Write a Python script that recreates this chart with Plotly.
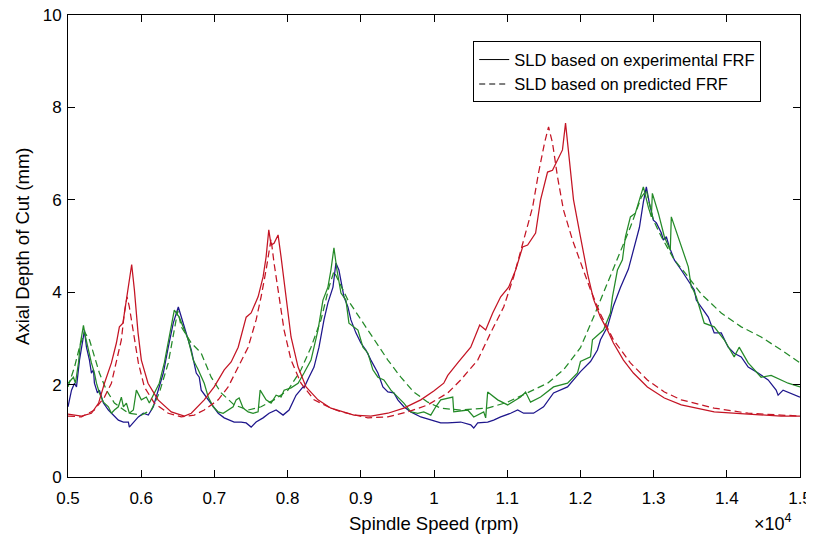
import plotly.graph_objects as go

# ---------------- data (spindle speed in rpm, depth in mm) ----------------
red_solid_x = [5000, 5184, 5320, 5418, 5498, 5593, 5661, 5702, 5750, 5798, 5838, 5870, 5907, 5957, 6002,
               6093, 6230, 6411, 6590, 6684, 6861, 6997, 7134, 7229, 7325, 7406, 7434, 7502, 7597, 7665,
               7706, 7743, 7774, 7815, 7870, 7911, 7979, 8047, 8143, 8252, 8415, 8592, 8906, 9138, 9370,
               9588, 9819, 9997, 10133, 10188, 10324, 10392, 10502, 10597, 10624, 10706, 10802, 10911,
               11020, 11115, 11211, 11279, 11388, 11456, 11551, 11619, 11688, 11755, 11797, 11838, 11906,
               12001, 12097, 12179, 12274, 12370, 12451, 12588, 12724, 12915, 13147, 13378, 13828, 14292,
               14742, 15000]
red_solid_y = [1.36, 1.32, 1.38, 1.60, 2.03, 2.47, 2.90, 3.25, 3.33, 3.83, 4.33, 4.60, 4.05, 3.12, 2.53,
               2.03, 1.67, 1.41, 1.32, 1.38, 1.67, 1.95, 2.32, 2.49, 2.81, 3.25, 3.46, 3.55, 3.90, 4.33,
               4.76, 5.35, 5.02, 5.06, 5.24, 4.76, 3.90, 3.03, 2.38, 1.95, 1.67, 1.49, 1.34, 1.32, 1.38,
               1.49, 1.67, 1.86, 2.03, 2.20, 2.47, 2.60, 2.81, 3.18, 3.29, 3.18, 3.55, 3.90,
               4.11, 4.48, 4.98, 5.02, 5.28, 6.00, 6.60, 6.64, 6.86, 7.08, 7.66, 7.08, 6.00,
               5.20, 4.40, 3.85, 3.46, 3.18, 2.90, 2.53, 2.25, 1.95, 1.71, 1.56, 1.41, 1.36,
               1.32, 1.32]

red_dash_x = [5000, 5184, 5361, 5498, 5593, 5661, 5729, 5770, 5807, 5838, 5893, 5961, 6043, 6179, 6370,
              6547, 6725, 6861, 7052, 7188, 7325, 7461, 7570, 7638, 7706, 7747, 7774, 7815, 7883, 7952,
              8047, 8183, 8361, 8592, 8729, 9097, 9370, 9643, 9915, 10188, 10365, 10597, 10774, 10952,
              11088, 11224, 11347, 11428, 11510, 11565, 11619, 11688, 11769, 11892, 12001, 12138, 12274,
              12451, 12683, 12915, 13147, 13378, 13828, 14292, 14742, 15000]
red_dash_y = [1.32, 1.30, 1.45, 1.73, 2.03, 2.47, 2.97, 3.55, 3.90, 3.68, 3.12, 2.47, 1.95, 1.60, 1.38,
              1.30, 1.34, 1.45, 1.67, 1.95, 2.38, 2.81, 3.40, 3.90, 4.48, 4.85, 5.15, 4.63, 3.90, 3.18,
              2.53, 2.03, 1.67, 1.49, 1.41, 1.28, 1.30, 1.41, 1.56, 1.82, 2.10, 2.53, 3.12, 3.68,
              4.33, 5.13, 5.84, 6.58, 7.23, 7.58, 7.23, 6.49, 5.78, 5.13, 4.63, 4.05, 3.53,
              2.97, 2.47, 2.10, 1.84, 1.67, 1.49, 1.38, 1.34, 1.32]

green_dash_x = [5000, 5089, 5157, 5225, 5293, 5361, 5429, 5525, 5634, 5825, 6002, 6138, 6247, 6370, 6438,
                6480, 6500, 6547, 6684, 6779, 6820, 6956, 7093, 7270, 7461, 7638, 7815, 8006, 8183, 8320,
                8456, 8565, 8633, 8824, 9001, 9179, 9370, 9547, 9724, 9915, 10092, 10365, 10733, 11006,
                11279, 11551, 11769, 12001, 12179, 12370, 12547, 12683, 12833, 12901, 12997, 13106, 13283,
                13474, 13651, 13924, 14197, 14469, 14742, 15000]
green_dash_y = [1.95, 2.38, 2.81, 3.14, 2.97, 2.60, 2.25, 1.88, 1.60, 1.38, 1.34, 1.45, 1.82, 2.47, 3.03,
                3.46, 3.60, 3.25, 2.90, 2.75, 2.68, 2.16, 1.82, 1.56, 1.45, 1.52, 1.67, 1.88, 2.32, 2.81,
                3.40, 4.11, 4.45, 3.83, 3.40, 2.97, 2.53, 2.16, 1.84, 1.62, 1.49, 1.45, 1.49, 1.62,
                1.82, 2.03, 2.32, 2.80, 3.46, 4.20, 4.85, 5.41, 6.06, 6.20, 5.56, 5.20, 4.70,
                4.33, 3.96, 3.55, 3.25, 3.03, 2.75, 2.47]

blue_x = [5000, 5048, 5089, 5116, 5157, 5198, 5225, 5252, 5293, 5320, 5348, 5361, 5402, 5429, 5484,
          5552, 5620, 5688, 5757, 5825, 5838, 5893, 5961, 6029, 6097, 6166, 6234, 6302, 6370, 6438,
          6507, 6547, 6588, 6643, 6684, 6752, 6793, 6820, 6888, 6956, 7052, 7134, 7270, 7365, 7434,
          7502, 7570, 7665, 7747, 7843, 7938, 8020, 8115, 8211, 8224, 8292, 8361, 8429, 8497, 8551,
          8620, 8660, 8701, 8770, 8824, 8865, 8933, 9001, 9070, 9138, 9234, 9302, 9370, 9452, 9506,
          9588, 9683, 9819, 9956, 10092, 10188, 10365, 10502, 10543, 10597, 10733, 10815, 10911,
          11047, 11143, 11224, 11360, 11497, 11633, 11824, 12001, 12138, 12233, 12274, 12370, 12451,
          12547, 12656, 12724, 12806, 12860, 12901, 12942, 12997, 13038, 13106, 13133, 13174, 13215,
          13283, 13378, 13474, 13556, 13583, 13651, 13747, 13828, 13924, 14019, 14101, 14197, 14292,
          14428, 14565, 14674, 14701, 14769, 14865, 15000]
blue_y = [1.52, 1.88, 2.03, 1.95, 2.53, 2.97, 3.18, 2.81, 2.53, 2.25, 2.32, 2.03, 1.82, 1.88, 1.60,
          1.45, 1.34, 1.23, 1.19, 1.19, 1.08, 1.19, 1.30, 1.38, 1.34, 1.52, 1.88, 2.25, 2.81, 3.33,
          3.68, 3.46, 3.25, 2.97, 2.75, 2.25, 2.16, 1.88, 1.73, 1.60, 1.38, 1.28, 1.19, 1.19, 1.17,
          1.08, 1.19, 1.28, 1.38, 1.45, 1.34, 1.45, 1.77, 1.95, 1.93, 2.16, 2.38, 2.81, 3.40, 3.77,
          4.11, 4.63, 4.48, 3.90, 3.68, 3.40, 3.12, 2.90, 2.75, 2.53, 2.25, 1.95, 1.84, 1.82, 1.67,
          1.52, 1.41, 1.30, 1.23, 1.17, 1.17, 1.19, 1.13, 1.06, 1.17, 1.19, 1.23, 1.30,
          1.38, 1.45, 1.38, 1.38, 1.52, 1.82, 1.95, 2.28, 2.50, 2.75, 2.97, 3.25, 3.70,
          4.10, 4.50, 4.90, 5.40, 5.95, 6.28, 5.93, 5.56, 5.50, 5.28, 5.13, 5.20, 4.98,
          4.70, 4.48, 4.26, 4.05, 3.83, 3.68, 3.46, 3.12, 3.12, 2.81, 2.68, 2.60, 2.38,
          2.25, 2.10, 1.88, 1.77, 1.88, 1.82, 1.73]

green_x = [5000, 5075, 5102, 5143, 5170, 5211, 5239, 5279, 5320, 5361, 5389, 5429, 5484, 5552, 5593,
           5634, 5688, 5729, 5757, 5798, 5838, 5893, 5934, 6002, 6070, 6111, 6179, 6247, 6316, 6384,
           6452, 6520, 6575, 6643, 6711, 6779, 6861, 6916, 6984, 7052, 7120, 7188, 7256, 7297, 7338,
           7393, 7461, 7529, 7597, 7625, 7706, 7774, 7843, 7911, 7952, 8047, 8143, 8224, 8320, 8415,
           8483, 8551, 8592, 8633, 8674, 8729, 8797, 8838, 8961, 9029, 9097, 9165, 9234, 9315, 9411,
           9506, 9588, 9683, 9779, 9860, 9956, 10024, 10092, 10256, 10270, 10461, 10543, 10679, 10706,
           10733, 10870, 11006, 11183, 11251, 11319, 11456, 11633, 11824, 11960, 12001, 12138, 12165,
           12315, 12410, 12438, 12506, 12574, 12615, 12683, 12751, 12860, 12928, 12969, 12983, 13065,
           13147, 13228, 13242, 13338, 13474, 13515, 13542, 13583, 13692, 13828, 13965, 14101, 14169,
           14292, 14469, 14606, 14838, 15000]
green_y = [2.03, 2.16, 2.03, 2.47, 2.90, 3.28, 3.03, 2.75, 2.47, 2.25, 2.03, 1.82, 1.62, 1.52, 1.38,
           1.45, 1.52, 1.73, 1.52, 1.60, 1.38, 1.45, 1.88, 1.67, 1.73, 1.60, 1.82, 2.03, 2.47, 3.03,
           3.61, 3.46, 3.25, 2.97, 2.53, 2.32, 2.03, 1.73, 1.52, 1.41, 1.38, 1.45, 1.52, 1.67, 1.71,
           1.49, 1.41, 1.38, 1.41, 1.88, 1.67, 1.60, 1.77, 1.73, 1.88, 1.93, 2.03, 2.25, 2.53, 3.18,
           3.83, 4.11, 4.48, 4.96, 4.48, 3.98, 3.83, 3.33, 3.18, 2.81, 2.68, 2.32, 2.16, 2.10, 1.88,
           1.73, 1.60, 1.41, 1.38, 1.41, 1.34, 1.52, 1.67, 1.73, 1.41, 1.45, 1.30, 1.41, 1.28,
           1.84, 1.67, 1.56, 1.73, 1.84, 1.62, 1.73, 1.95, 2.03, 2.25, 2.50, 2.60, 2.97,
           3.18, 3.55, 3.90, 4.48, 4.70, 5.20, 5.63, 5.71, 6.28, 5.84, 5.63, 6.14, 5.71,
           5.20, 4.91, 5.63, 5.20, 4.55, 4.11, 4.05, 3.90, 3.33, 3.25, 2.97, 2.60, 2.81,
           2.47, 2.16, 2.20, 2.03, 1.95]

x_tick_vals = [5000, 6000, 7000, 8000, 9000, 10000, 11000, 12000, 13000, 14000, 15000]
x_tick_text = ["0.5", "0.6", "0.7", "0.8", "0.9", "1", "1.1", "1.2", "1.3", "1.4", "1.5"]
y_tick_vals = [0, 2, 4, 6, 8, 10]
legend_labels = ["SLD based on experimental FRF", "SLD based on predicted FRF"]

RED = "rgb(196,20,36)"
BLUE = "rgb(30,22,140)"
GREEN = "rgb(36,138,40)"
FONT = "Liberation Sans, Arial, Helvetica, sans-serif"
LW = 1.25
DASH = "7px,4px"

fig = go.Figure()
fig.add_trace(go.Scatter(x=blue_x, y=blue_y, mode="lines", line=dict(color=BLUE, width=LW), showlegend=False))
fig.add_trace(go.Scatter(x=green_x, y=green_y, mode="lines", line=dict(color=GREEN, width=LW), showlegend=False))
fig.add_trace(go.Scatter(x=green_dash_x, y=green_dash_y, mode="lines",
                         line=dict(color=GREEN, width=LW, dash=DASH), showlegend=False))
fig.add_trace(go.Scatter(x=red_dash_x, y=red_dash_y, mode="lines",
                         line=dict(color=RED, width=LW, dash=DASH), showlegend=False))
fig.add_trace(go.Scatter(x=red_solid_x, y=red_solid_y, mode="lines", line=dict(color=RED, width=LW), showlegend=False))

# legend entries
fig.add_trace(go.Scatter(x=[None], y=[None], mode="lines", name=legend_labels[0],
                         line=dict(color="black", width=1)))
fig.add_trace(go.Scatter(x=[None], y=[None], mode="lines", name=legend_labels[1],
                         line=dict(color="black", width=1, dash="6px,4px")))

axis_common = dict(showline=True, linecolor="black", linewidth=1, mirror="ticks",
                   ticks="inside", ticklen=7, tickcolor="black", tickwidth=1,
                   showgrid=False, zeroline=False, automargin=False,
                   ticklabeloverflow="allow",
                   tickfont=dict(family=FONT, size=17, color="black"))

# page body adds an 8px offset, so the figure is sized and margined to compensate
fig.update_layout(
    width=806, height=533,
    margin=dict(l=60, r=14, t=7, b=64),
    paper_bgcolor="white", plot_bgcolor="white",
    font=dict(family=FONT, color="black"),
    xaxis=dict(range=[5000, 15000], tickvals=x_tick_vals, ticktext=x_tick_text,
               ticklabelstandoff=6, **axis_common),
    yaxis=dict(range=[0, 10], tickvals=y_tick_vals, ticklabelstandoff=2, **axis_common),
    legend=dict(x=0.947, y=0.943, xanchor="right", yanchor="top",
                bgcolor="white", bordercolor="black", borderwidth=1,
                font=dict(family=FONT, size=16.5, color="black"),
                itemwidth=30, tracegroupgap=0),
    annotations=[
        dict(text="Spindle Speed (rpm)", xref="paper", yref="paper", x=0.5, y=-0.1,
             xanchor="center", yanchor="middle", showarrow=False,
             font=dict(family=FONT, size=18.5, color="black")),
        dict(text="Axial Depth of Cut (mm)", xref="paper", yref="paper", x=-0.063, y=0.5,
             xanchor="center", yanchor="middle", textangle=-90, showarrow=False,
             font=dict(family=FONT, size=18.5, color="black")),
        dict(text="×10<sup>4</sup>", xref="paper", yref="paper", x=0.963, y=-0.098,
             xanchor="center", yanchor="middle", showarrow=False,
             font=dict(family=FONT, size=18, color="black")),
    ],
)

fig.write_html("out.html")
